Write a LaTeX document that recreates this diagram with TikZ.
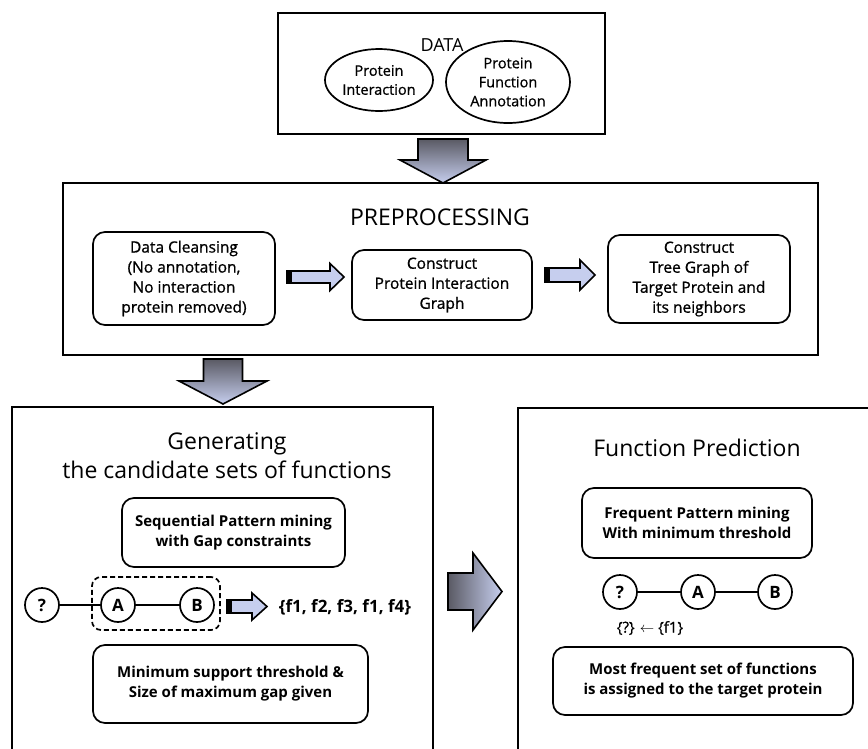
\documentclass[tikz,border=0pt]{standalone}
\usepackage{fontspec}
\setmainfont{Open Sans}
\newfontfamily\medfont[FakeBold=0.9]{Open Sans}
\usetikzlibrary{shapes.geometric}

\definecolor{lav}{HTML}{C6CEEE}
\definecolor{arrdark}{HTML}{5A5A64}

\tikzset{
  x=1pt, y=-1pt,
  frame/.style={draw, line width=2.6pt},
  panel/.style={draw, line width=2.6pt},
  rbox/.style={draw, line width=1.7pt, rounded corners=12pt, align=center,
    font=\medfont\fontsize{15.5}{20}\selectfont, inner sep=0pt},
  bbox/.style={rbox, font=\fontsize{15}{20}\selectfont\bfseries},
  oval/.style={draw, ellipse, line width=1.7pt, align=center, inner sep=0pt,
    font=\medfont\fontsize{14.5}{19}\selectfont},
  vertex/.style={draw, circle, line width=1.7pt, minimum size=34pt, inner sep=0pt,
    font=\fontsize{17}{20}\selectfont\bfseries},
  title/.style={align=center, font=\fontsize{23}{29}\selectfont, inner sep=0pt},
  blockarrow/.style={draw, line width=1.6pt, line join=miter},
  edge/.style={line width=1.2pt},
}

% horizontal block arrow: shaft from x1 to x2, head ends at x3; centre y; shaft and head half-heights
\newcommand\hblockarrow[6]{%
  \path[blockarrow, left color=arrdark, right color=lav]
    (#1,#4-#5) -- (#2,#4-#5) -- (#2,#4-#6) -- (#3,#4) -- (#2,#4+#6) -- (#2,#4+#5) -- (#1,#4+#5) -- cycle;}
% small horizontal block arrow with a dark stub at its tail
\newcommand\stubarrow[6]{%
  \path[blockarrow, fill=lav]
    (#1,#4-#5) -- (#2,#4-#5) -- (#2,#4-#6) -- (#3,#4) -- (#2,#4+#6) -- (#2,#4+#5) -- (#1,#4+#5) -- cycle;
  \fill (#1,#4-#5) rectangle (#1+5,#4+#5);}
% vertical block arrow: shaft from y1 to y2, head ends at y3; centre x; half-widths
\newcommand\vblockarrow[6]{%
  \path[blockarrow, top color=arrdark, bottom color=lav]
    (#4-#5,#1) -- (#4+#5,#1) -- (#4+#5,#2) -- (#4+#6,#2) -- (#4,#3) -- (#4-#6,#2) -- (#4-#5,#2) -- cycle;}

\begin{document}
\begin{tikzpicture}
\useasboundingbox[fill=white] (0,0) rectangle (868,748);

% ---------- DATA ----------
\node[frame, minimum width=327pt, minimum height=121pt, inner sep=0pt] (data) at (441.5,73.5) {};
\node[inner sep=0pt, font=\fontsize{18}{21}\selectfont] (datalbl) at (442,45) {DATA};
\node[oval, minimum width=108pt, minimum height=62pt] (pint) at (379,80) {Protein\\Interaction};
\node[oval, minimum width=124pt, minimum height=82pt] (pfa) at (508,82) {Protein\\Function\\Annotation};

\vblockarrow{139}{160}{183}{443}{25}{43}

% ---------- PREPROCESSING ----------
\node[frame, minimum width=755pt, minimum height=172pt, inner sep=0pt] (prep) at (440.5,269) {};
\node[title] (preptitle) at (440,217) {PREPROCESSING};
\node[rbox, minimum width=182pt, minimum height=93pt] (clean) at (184,278.5)
  {Data Cleansing\\(No annotation,\\No interaction\\protein removed)};
\node[rbox, minimum width=180pt, minimum height=70pt] (graph) at (442,285)
  {Construct\\Protein Interaction\\Graph};
\node[rbox, minimum width=182pt, minimum height=88pt] (tree) at (699,279)
  {Construct\\Tree Graph of\\Target Protein and\\its neighbors};

\stubarrow{287}{330}{344}{277}{6}{13.5}
\stubarrow{545}{580}{595}{275}{7}{15}

\vblockarrow{359}{381}{404}{223}{19.5}{44}

% ---------- candidate generation ----------
\draw[panel] (12,752) -- (12,407) -- (433,407) -- (433,752);
\node[title] (gentitle) at (227,456) {Generating\\the candidate sets of functions};
\node[bbox, minimum width=223pt, minimum height=69pt] (seq) at (233.5,532.5)
  {Sequential Pattern mining\\with Gap constraints};
\node[draw, dash pattern=on 5pt off 3pt, line width=1.7pt, rounded corners=9pt, minimum width=128pt,
  minimum height=53pt, inner sep=0pt] (pair) at (156,603.5) {};
\node[vertex] (q1) at (42,605) {?};
\node[vertex] (a1) at (118,605) {A};
\node[vertex] (b1) at (197,605) {B};
\draw[edge] (q1) -- (a1);
\draw[edge] (a1) -- (b1);
\stubarrow{227}{252}{267}{606.5}{6.5}{13.5}
\node[inner sep=0pt, font=\fontsize{17}{21}\selectfont\bfseries] (fset) at (345,607)
  {\{f1, f2, f3, f1, f4\}};
\node[bbox, minimum width=275pt, minimum height=78pt] (minsup) at (230.5,684)
  {Minimum support threshold \&\\Size of maximum gap given};

\hblockarrow{448}{473}{502}{591.5}{18.5}{38.5}

% ---------- function prediction ----------
\draw[panel] (518,752) -- (518,408) -- (872,408);
\node[title] (predtitle) at (697,448) {Function Prediction};
\node[bbox, minimum width=230pt, minimum height=70pt] (freq) at (697,523)
  {Frequent Pattern mining\\With minimum threshold};
\node[vertex] (q2) at (620,592) {?};
\node[vertex] (a2) at (698,592) {A};
\node[vertex] (b2) at (775,592) {B};
\draw[edge] (q2) -- (a2);
\draw[edge] (a2) -- (b2);
\node[inner sep=0pt, font=\medfont\fontsize{15}{18}\selectfont] (assign) at (650,628)
  {\{?\} $\leftarrow$ \{f1\}};
\node[bbox, minimum width=300pt, minimum height=68pt] (most) at (703,681)
  {Most frequent set of functions\\is assigned to the target protein};
\end{tikzpicture}
\end{document}
